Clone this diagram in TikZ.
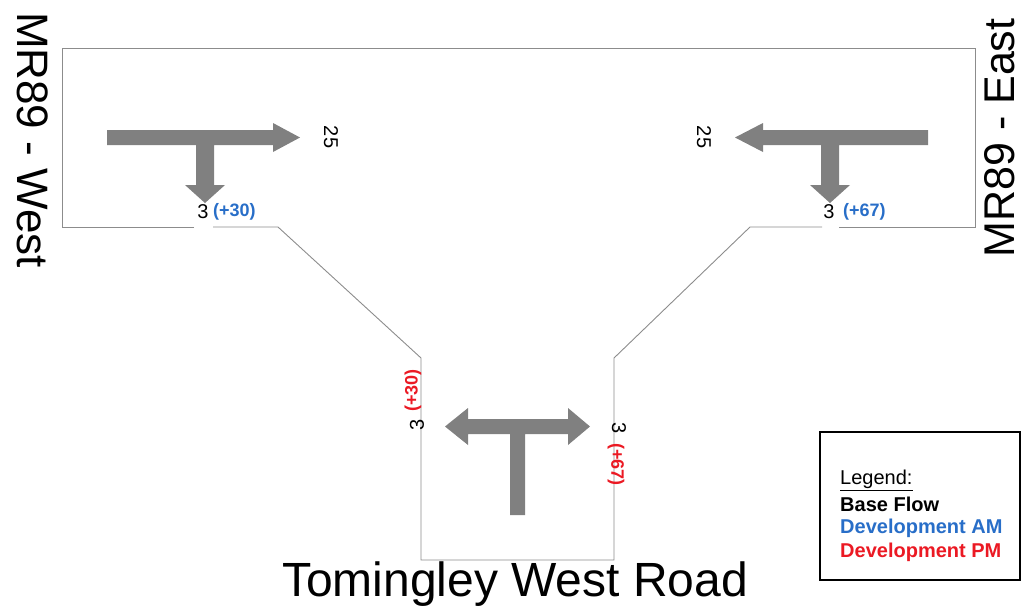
\documentclass[tikz,border=0pt]{standalone}
\usepackage{fontspec}
\setmainfont{Liberation Sans}
\begin{document}
\begin{tikzpicture}[x=1pt,y=-1pt,
  road/.style={draw=black!45,line width=0.9pt},
  flow/.style={fill=black!50,draw=none},
  num/.style={inner sep=0pt,font=\fontsize{20}{20}\selectfont},
  am/.style={inner sep=0pt,text=amblue,font=\bfseries\fontsize{18}{18}\selectfont},
  pm/.style={inner sep=0pt,text=pmred,font=\bfseries\fontsize{18}{18}\selectfont},
  roadname/.style={inner sep=0pt,font=\fontsize{44}{44}\selectfont},
  legtext/.style={anchor=west,inner sep=0pt,font=\bfseries\fontsize{20}{20}\selectfont}]
\definecolor{amblue}{RGB}{40,110,200}
\definecolor{pmred}{RGB}{235,25,35}
\useasboundingbox (0,0) rectangle (1025,614);
% road outline
\draw[road] (194,227) -- (62,227) -- (62,48) -- (975,48) -- (975,227) -- (839,227);
\draw[road] (822,227) -- (750,227) -- (614,358) -- (614,560) -- (421,560) -- (421,358) -- (278,227) -- (213,227);
% west approach arrows
\fill[flow] (107,130) -- (273,130) -- (273,123) -- (300,137.5) -- (273,152) -- (273,145) -- (214,145) -- (214,185) -- (225,185) -- (205,203) -- (185,185) -- (196,185) -- (196,145) -- (107,145) -- cycle;
% east approach arrows
\fill[flow] (928,130) -- (763,130) -- (763,123) -- (735,137.5) -- (763,152) -- (763,145) -- (839,145) -- (839,185) -- (850,185) -- (830,203) -- (810,185) -- (821,185) -- (821,145) -- (928,145) -- cycle;
% south approach arrows
\fill[flow] (445,426.5) -- (468,408) -- (468,419) -- (568,419) -- (568,408) -- (590,426.5) -- (568,445) -- (568,434) -- (525,434) -- (525,515) -- (510,515) -- (510,434) -- (468,434) -- (468,445) -- cycle;
% volumes
\node[num,rotate=-90] (w25) at (331,137) {25};
\node[num] (w3) at (203,212) {3};
\node[am,anchor=west] (wam) at (213,212) {(+30)};
\node[num,rotate=-90] (e25) at (704,137) {25};
\node[num] (e3) at (829,212) {3};
\node[am,anchor=west] (eam) at (843,212) {(+67)};
\node[num,rotate=90] (s3l) at (417,425) {3};
\node[pm,rotate=90,anchor=west] (spm1) at (413,412) {(+30)};
\node[num,rotate=-90] (s3r) at (619,428) {3};
\node[pm,rotate=-90,anchor=west] (spm2) at (616,443) {(+67)};
% road names
\node[roadname,rotate=-90] (west) at (33,140) {MR89 - West};
\node[roadname,rotate=90,font=\fontsize{43}{43}\selectfont] (east) at (1000,138) {MR89 - East};
\node[roadname,font=\fontsize{48}{48}\selectfont] (south) at (515,584) {Tomingley West Road};
% legend
\node[draw=black,line width=1.8pt,minimum width=200pt,minimum height=148pt,inner sep=0pt] (legbox) at (920,506) {};
\node[legtext,font=\fontsize{20}{20}\selectfont] (leg) at (840,480) {\underline{Legend:}};
\node[legtext] (base) at (840,504) {Base Flow};
\node[legtext,text=amblue] (dam) at (840,528) {Development AM};
\node[legtext,text=pmred] (dpm) at (840,552) {Development PM};
\end{tikzpicture}
\end{document}
